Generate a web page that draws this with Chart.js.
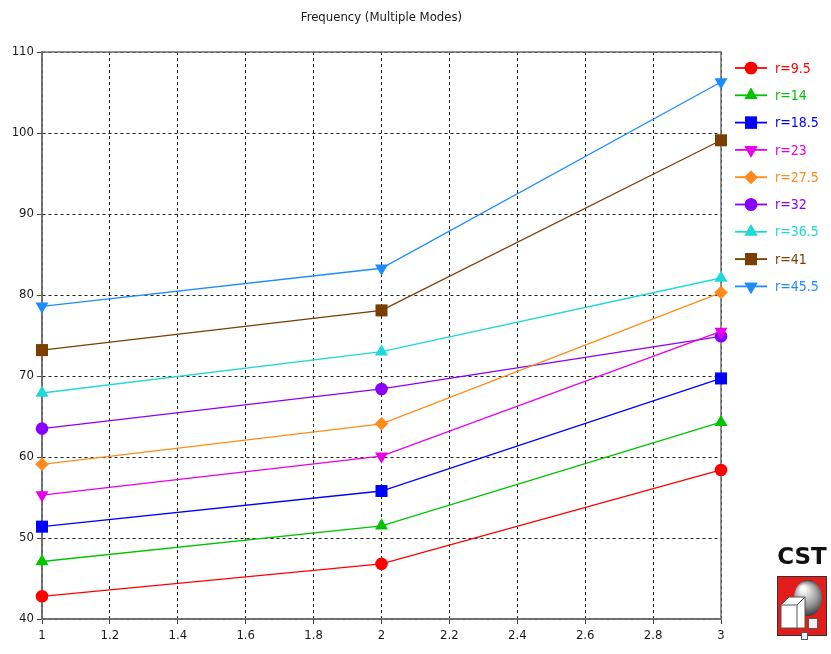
<!DOCTYPE html>
<html>
<head>
<meta charset="utf-8">
<script src="https://cdn.jsdelivr.net/npm/chart.js@4/dist/chart.umd.min.js"></script>
<style>
  html, body { margin: 0; padding: 0; background: #ffffff; }
  #wrap { width: 831px; height: 654px; position: relative; }
</style>
</head>
<body>
<div id="wrap"><canvas id="chart" width="831" height="654"></canvas></div>
<script>
// Sweep parameter values (x) and mode frequencies for each radius r
const xValues = [1, 2, 3];
const seriesNames = ['r=9.5', 'r=14', 'r=18.5', 'r=23', 'r=27.5', 'r=32', 'r=36.5', 'r=41', 'r=45.5'];
const r9_5  = [42.8, 46.8, 58.4];
const r14   = [47.1, 51.5, 64.3];
const r18_5 = [51.4, 55.8, 69.7];
const r23   = [55.3, 60.1, 75.5];
const r27_5 = [59.1, 64.1, 80.3];
const r32   = [63.5, 68.4, 74.9];
const r36_5 = [67.9, 73.0, 82.1];
const r41   = [73.2, 78.1, 99.1];
const r45_5 = [78.6, 83.3, 106.3];
const seriesValues = [r9_5, r14, r18_5, r23, r27_5, r32, r36_5, r41, r45_5];
const xTicks = [1, 1.2, 1.4, 1.6, 1.8, 2, 2.2, 2.4, 2.6, 2.8, 3];
const yTicks = [40, 50, 60, 70, 80, 90, 100, 110];

const colors = ['#ff0000', '#00c400', '#0000ff', '#e800e8', '#ff8c1a', '#8a00ff', '#20d8d8', '#7a3e00', '#1e8cff'];
const shapes = ['circle', 'triangle', 'rect', 'triangle', 'rectRot', 'circle', 'triangle', 'rect', 'triangle'];
const rotations = [0, 0, 0, 180, 0, 0, 0, 0, 180];
const radii = [6.3, 7.5, 8.5, 7.5, 6.8, 6.3, 7.5, 8.5, 7.5];

const FONT = '"DejaVu Sans Condensed", "DejaVu Sans", sans-serif';

const datasets = seriesNames.map((name, i) => ({
  label: name,
  data: xValues.map((x, j) => ({ x: x, y: seriesValues[i][j] })),
  borderColor: colors[i],
  backgroundColor: colors[i],
  borderWidth: 1.3,
  pointStyle: shapes[i],
  pointRotation: rotations[i],
  pointRadius: radii[i],
  pointHoverRadius: radii[i],
  pointBorderWidth: 0,
  clip: false,
  tension: 0
}));

// Title, frame, line-style legend and the CST logo
const decorations = {
  id: 'decorations',
  beforeDatasetsDraw(chart) {
    const ctx = chart.ctx;
    const a = chart.chartArea;
    ctx.save();
    // solid plot frame
    ctx.strokeStyle = '#6e6e6e';
    ctx.lineWidth = 1.5;
    ctx.strokeRect(a.left, a.top, a.right - a.left, a.bottom - a.top);
    ctx.restore();
  },
  afterDraw(chart) {
    const ctx = chart.ctx;
    const a = chart.chartArea;
    ctx.save();

    // title
    ctx.fillStyle = '#1a1a1a';
    ctx.font = '13px ' + FONT;
    ctx.textAlign = 'center';
    ctx.textBaseline = 'middle';
    ctx.fillText('Frequency (Multiple Modes)', (a.left + a.right) / 2, 18);

    // legend: line segment with marker, coloured label
    ctx.textAlign = 'left';
    ctx.font = '14px ' + FONT;
    chart.data.datasets.forEach((ds, i) => {
      const y = 68 + i * 27.3;
      ctx.strokeStyle = ds.borderColor;
      ctx.lineWidth = 1.8;
      ctx.beginPath();
      ctx.moveTo(735, y);
      ctx.lineTo(767, y);
      ctx.stroke();
      ctx.fillStyle = ds.backgroundColor;
      Chart.helpers.drawPoint(ctx, {
        pointStyle: ds.pointStyle,
        rotation: ds.pointRotation,
        radius: ds.pointRadius,
        borderWidth: 0
      }, 751, y);
      ctx.fill();
      ctx.fillStyle = ds.borderColor;
      ctx.fillText(ds.label, 775, y + 1);
    });

    // CST logo
    ctx.fillStyle = '#111111';
    ctx.font = 'bold 23px "DejaVu Sans", sans-serif';
    ctx.textAlign = 'center';
    ctx.fillText('CST', 802, 558);
    ctx.fillStyle = '#e31c1c';
    ctx.fillRect(777, 576, 50, 60);
    ctx.strokeStyle = '#333333';
    ctx.lineWidth = 1;
    ctx.strokeRect(777.5, 576.5, 49, 59);
    // sphere
    const g = ctx.createRadialGradient(803, 588, 2, 808, 598, 18);
    g.addColorStop(0, '#ffffff');
    g.addColorStop(0.6, '#9a9a9a');
    g.addColorStop(1, '#3a3a3a');
    ctx.fillStyle = g;
    ctx.beginPath();
    ctx.ellipse(808, 598, 14, 18, 0, 0, Math.PI * 2);
    ctx.fill();
    // big cube
    ctx.fillStyle = '#ffffff';
    ctx.strokeStyle = '#555555';
    ctx.beginPath();
    ctx.moveTo(781, 605); ctx.lineTo(789, 597); ctx.lineTo(805, 597); ctx.lineTo(805, 628); ctx.lineTo(781, 628); ctx.closePath();
    ctx.fill(); ctx.stroke();
    ctx.beginPath(); ctx.moveTo(781, 605); ctx.lineTo(797, 605); ctx.lineTo(805, 597); ctx.stroke();
    ctx.beginPath(); ctx.moveTo(797, 605); ctx.lineTo(797, 628); ctx.stroke();
    // small cubes
    ctx.fillStyle = '#f0f0f0';
    ctx.fillRect(808, 618, 9, 10);
    ctx.strokeRect(808.5, 618.5, 9, 10);
    ctx.fillRect(801, 632, 6, 7);
    ctx.strokeRect(801.5, 632.5, 6, 7);

    ctx.restore();
  }
};

new Chart(document.getElementById('chart'), {
  type: 'line',
  data: { datasets: datasets },
  options: {
    responsive: false,
    animation: false,
    devicePixelRatio: 1,
    layout: { padding: { top: 52, right: 110, bottom: 0, left: 0 } },
    plugins: {
      legend: { display: false },
      title: { display: false },
      tooltip: { enabled: false }
    },
    scales: {
      x: {
        type: 'linear',
        min: 1,
        max: 3,
        afterBuildTicks(scale) { scale.ticks = xTicks.map(v => ({ value: v })); },
        afterFit(scale) { scale.height = 35; },
        ticks: {
          color: '#1a1a1a',
          font: { family: FONT, size: 13 },
          padding: 4,
          maxRotation: 0,
          autoSkip: false,
          callback: v => String(v)
        },
        grid: { color: '#222222', lineWidth: 1, tickLength: 5, tickBorderDash: [], tickColor: '#444444' },
        border: { display: true, color: '#6e6e6e', width: 1.5, dash: [3, 3] }
      },
      y: {
        type: 'linear',
        min: 40,
        max: 110,
        afterBuildTicks(scale) { scale.ticks = yTicks.map(v => ({ value: v })); },
        afterFit(scale) { scale.width = 42; },
        ticks: {
          color: '#1a1a1a',
          font: { family: FONT, size: 13 },
          padding: 3
        },
        grid: { color: '#222222', lineWidth: 1, tickLength: 5, tickBorderDash: [], tickColor: '#444444' },
        border: { display: true, color: '#6e6e6e', width: 1.5, dash: [3, 3] }
      }
    }
  },
  plugins: [decorations]
});
</script>
</body>
</html>
